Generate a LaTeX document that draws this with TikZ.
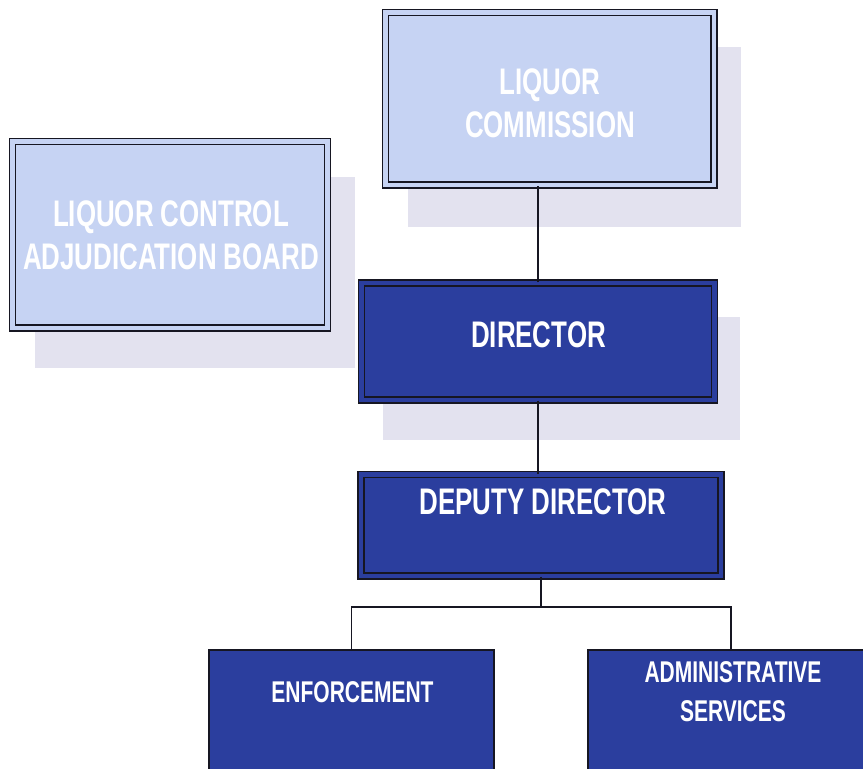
\documentclass[tikz,border=0pt]{standalone}
\usepackage{fontspec}
\newfontfamily\orgfont[FakeStretch=0.70]{Liberation Sans}
\definecolor{lightfill}{RGB}{198,211,243}
\definecolor{darkfill}{RGB}{43,62,158}
\definecolor{shadowc}{RGB}{227,226,239}
\definecolor{edgec}{RGB}{22,22,34}
\tikzset{
  shadowbox/.style={fill=shadowc, draw=none},
  lightbox/.style={draw=edgec, line width=1.3pt, double=lightfill, double distance=4.5pt, fill=lightfill, inner sep=0pt},
  darkbox/.style={draw=edgec, line width=1.3pt, double=darkfill, double distance=4.5pt, fill=darkfill, inner sep=0pt},
  flatbox/.style={draw=edgec, line width=1.3pt, fill=darkfill, inner sep=0pt},
  bigtext/.style={text=white, font=\orgfont\bfseries\fontsize{37}{43}\selectfont, align=center, inner sep=0pt},
  smalltext/.style={text=white, font=\orgfont\bfseries\fontsize{30}{39}\selectfont, align=center, inner sep=0pt},
  link/.style={draw=edgec, line width=1.2pt}
}
\begin{document}
\begin{tikzpicture}[x=1pt,y=-1pt]
\useasboundingbox (0,0) rectangle (863,769);
\clip (0,0) rectangle (863,769);
\fill[white] (0,0) rectangle (863,769);
% shadows
\fill[shadowbox] (408,47) rectangle (741,227);
\fill[shadowbox] (35,177) rectangle (355,368);
\fill[shadowbox] (383,317) rectangle (740,440);
% boxes
\node[lightbox, minimum width=328.5pt, minimum height=172.5pt] (commission) at (549.75,98.75) {};
\node[lightbox, minimum width=315pt, minimum height=186.5pt] (lcab) at (170,234.75) {};
\node[darkbox, minimum width=353pt, minimum height=117pt] (director) at (538,341.5) {};
\node[darkbox, minimum width=360pt, minimum height=101.5pt] (deputy) at (541,525.25) {};
\node[flatbox, minimum width=285pt, minimum height=150pt] (enforcement) at (351.5,725) {};
\node[flatbox, minimum width=286pt, minimum height=150pt] (admin) at (731,725) {};
% texts
\node[bigtext] (tcommission) at (550,103.5) {LIQUOR\\COMMISSION};
\node[bigtext] (tlcab) at (171,235) {LIQUOR CONTROL\\ADJUDICATION BOARD};
\node[bigtext] (tdirector) at (538.5,335) {DIRECTOR};
\node[bigtext] (tdeputy) at (543,502) {DEPUTY DIRECTOR};
\node[smalltext] (tenforcement) at (352.5,692) {ENFORCEMENT};
\node[smalltext] (tadmin) at (733,691.5) {ADMINISTRATIVE\\SERVICES};
% connectors
\coordinate (split) at (541,607);
\draw[link] (director.north) -- (director.north |- commission.south);
\draw[link] (director.south) -- (director.south |- deputy.north);
\draw[link] (deputy.south) -- (split);
\draw[link] (enforcement.north) |- (split) -| (admin.north);
\end{tikzpicture}
\end{document}
